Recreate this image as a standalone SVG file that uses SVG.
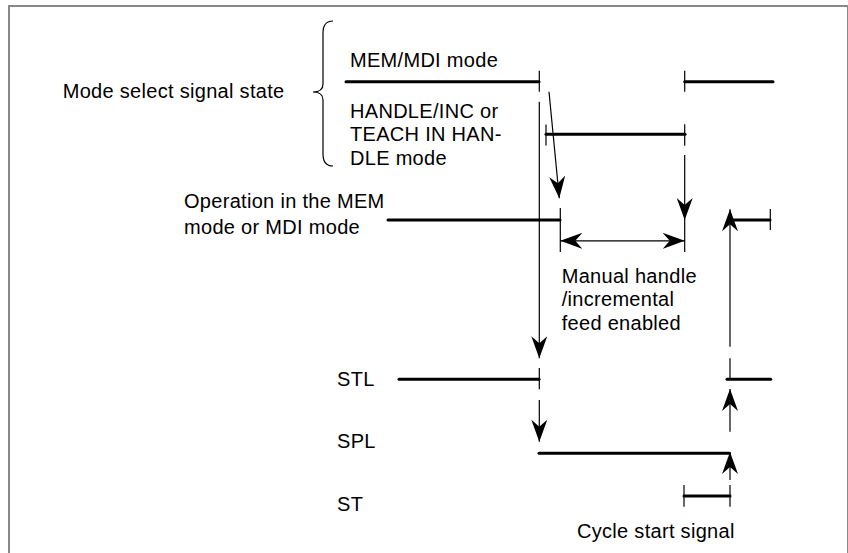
<svg xmlns="http://www.w3.org/2000/svg" width="848" height="553" viewBox="0 0 848 553">
<defs>
<style>
text { font-family: "Liberation Sans", Arial, sans-serif; font-size: 20px; letter-spacing: 0.3px; fill: #000; }
.sig { stroke: #000; stroke-width: 3; stroke-linecap: round; fill: none; }
.thin { stroke: #000; stroke-width: 1.2; fill: none; }
.arr { stroke: #000; stroke-width: 1.2; fill: none; marker-end: url(#ah); }
</style>
<marker id="ah" viewBox="-22 -8 22 16" refX="0" refY="0" markerWidth="22" markerHeight="16" markerUnits="userSpaceOnUse" orient="auto-start-reverse">
<path d="M0,0 L-22,-8 L-15,0 L-22,8 Z" fill="#000"/>
</marker>
</defs>
<rect x="9" y="6" width="839" height="560" fill="#fff" stroke="#888" stroke-width="2"/>

<g id="mode-select">
<text x="62.7" y="97.7">Mode select signal state</text>
<path class="thin" d="M333,21 Q323,21 323,33 L323,84 Q323,92 313,92 Q323,92 323,100 L323,154 Q323,166 333,166"/>
</g>

<g id="mem-mdi">
<text x="350" y="66.7">MEM/MDI mode</text>
<line class="sig" x1="346" y1="81.7" x2="539" y2="81.7"/>
<line class="sig" x1="684.7" y1="81.7" x2="773" y2="81.7"/>
</g>

<g id="handle-inc">
<text x="350" y="117.5">HANDLE/INC or</text>
<text x="350" y="141">TEACH IN HAN-</text>
<text x="350" y="165">DLE mode</text>
<line class="sig" x1="546" y1="134.3" x2="685" y2="134.3"/>
</g>

<g id="operation">
<text x="184" y="208.3">Operation in the MEM</text>
<text x="184" y="234">mode or MDI mode</text>
<line class="sig" x1="388" y1="220" x2="560" y2="220"/>
<line class="sig" x1="733" y1="220" x2="770" y2="220"/>
</g>

<g id="manual-label">
<text x="561.7" y="282.7">Manual handle</text>
<text x="561.7" y="306">/incremental</text>
<text x="561.7" y="330">feed enabled</text>
</g>

<g id="stl">
<text x="337" y="386">STL</text>
<line class="sig" x1="399" y1="379.3" x2="539" y2="379.3"/>
<line class="sig" x1="727" y1="379.3" x2="770.7" y2="379.3"/>
</g>

<g id="spl">
<text x="337" y="448">SPL</text>
<line class="sig" x1="539" y1="453.3" x2="729.3" y2="453.3"/>
</g>

<g id="st">
<text x="337" y="511">ST</text>
<line class="sig" x1="684" y1="496" x2="730" y2="496"/>
<text x="577" y="537.7">Cycle start signal</text>
</g>

<g id="connectors">
<line class="thin" x1="539.3" y1="70.7" x2="539.3" y2="91.7"/>
<line class="thin" x1="684.7" y1="70.7" x2="684.7" y2="91.7"/>
<line class="thin" x1="546" y1="124.5" x2="546" y2="145.5"/>
<line class="thin" x1="684.7" y1="124.3" x2="684.7" y2="145.7"/>
<line class="thin" x1="560.3" y1="208" x2="560.3" y2="252"/>
<line class="thin" x1="684.7" y1="220" x2="684.7" y2="252"/>
<line class="thin" x1="770.3" y1="209" x2="770.3" y2="230"/>
<line class="thin" x1="539.3" y1="368" x2="539.3" y2="389.3"/>
<line class="thin" x1="730" y1="358.3" x2="730" y2="379.3"/>
<line class="thin" x1="684" y1="485" x2="684" y2="506.7"/>
<line class="thin" x1="730" y1="485" x2="730" y2="506.7"/>
<line class="arr" x1="549" y1="91.7" x2="559.3" y2="198.3"/>
<line class="arr" x1="684.7" y1="155" x2="684.7" y2="220"/>
<line class="arr" x1="539.3" y1="101.7" x2="539.3" y2="358.3"/>
<line class="arr" x1="539.3" y1="400" x2="539.3" y2="441.7"/>
<line class="arr" x1="560.3" y1="240.8" x2="684.7" y2="240.8" style="marker-start:url(#ah)"/>
<line class="arr" x1="730" y1="346.7" x2="730" y2="209.3"/>
<line class="arr" x1="730" y1="431.7" x2="730" y2="389"/>
<line class="arr" x1="730" y1="480" x2="730" y2="452"/>
</g>
</svg>
